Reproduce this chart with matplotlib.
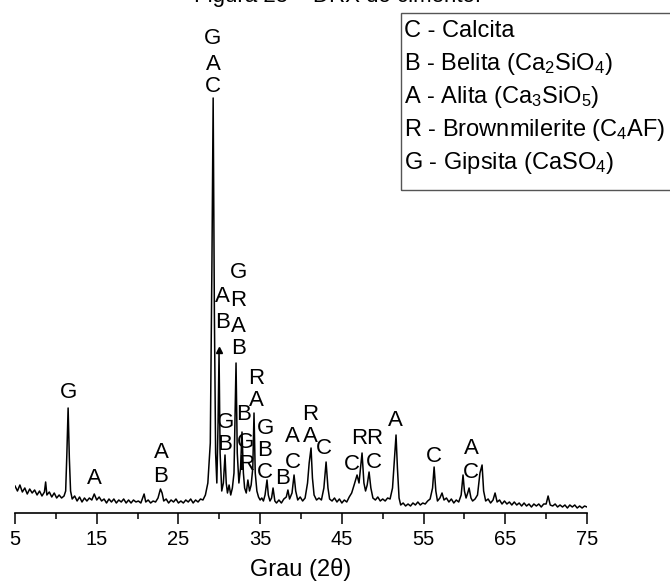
import matplotlib
matplotlib.use("Agg")
import matplotlib.pyplot as plt
from matplotlib.patches import Rectangle

plt.rcParams['font.family'] = ['Liberation Sans', 'DejaVu Sans']
plt.rcParams['mathtext.default'] = 'regular'

# difratograma (2theta, intensidade em unidades arbitrárias)
two_theta = [
    5.0, 5.3, 5.6, 5.9, 6.2, 6.5, 6.8, 7.1, 7.4, 7.7, 8.0, 8.3, 8.6, 8.75, 8.9,
    9.2, 9.5, 9.8, 10.1, 10.4, 10.7, 11.0, 11.2, 11.35, 11.5, 11.65, 11.8, 12.0,
    12.3, 12.6, 12.9, 13.2, 13.5, 13.8, 14.1, 14.4, 14.7, 15.0, 15.3, 15.6, 15.9,
    16.2, 16.5, 16.8, 17.1, 17.4, 17.7, 18.0, 18.3, 18.6, 18.9, 19.2, 19.5, 19.8,
    20.1, 20.4, 20.8, 21.0, 21.3, 21.6, 21.9, 22.2, 22.5, 22.8, 23.0, 23.2, 23.5,
    23.8, 24.1, 24.4, 24.7, 25.0, 25.3, 25.6, 25.9, 26.2, 26.5, 26.8, 27.1, 27.4,
    27.7, 28.0, 28.3, 28.6, 28.9, 29.1, 29.25, 29.4, 29.55, 29.7, 29.85, 29.97,
    30.1, 30.3, 30.5, 30.7, 30.85, 31.0, 31.2, 31.4, 31.6, 31.8, 32.05, 32.2,
    32.4, 32.6, 32.78, 32.95, 33.1, 33.3, 33.5, 33.7, 33.9, 34.1, 34.25, 34.4,
    34.6, 34.8, 35.0, 35.2, 35.4, 35.6, 35.84, 36.0, 36.2, 36.4, 36.58, 36.8,
    37.0, 37.3, 37.6, 37.9, 38.2, 38.4, 38.6, 38.9, 39.15, 39.35, 39.6, 39.9,
    40.2, 40.5, 40.8, 41.0, 41.23, 41.4, 41.6, 41.9, 42.2, 42.5, 42.8, 43.07,
    43.3, 43.5, 43.8, 44.1, 44.4, 44.7, 45.0, 45.3, 45.6, 45.9, 46.2, 46.5,
    46.86, 47.1, 47.47, 47.7, 47.9, 48.1, 48.33, 48.55, 48.8, 49.1, 49.4, 49.7,
    50.0, 50.3, 50.6, 50.9, 51.2, 51.45, 51.63, 51.8, 52.0, 52.2, 52.5, 52.8,
    53.1, 53.4, 53.7, 54.0, 54.3, 54.6, 54.9, 55.2, 55.5, 55.8, 56.1, 56.29,
    56.5, 56.7, 57.0, 57.26, 57.5, 57.8, 58.1, 58.4, 58.7, 59.0, 59.3, 59.6,
    59.83, 60.0, 60.2, 60.4, 60.57, 60.8, 61.0, 61.3, 61.6, 61.9, 62.16, 62.35,
    62.6, 62.9, 63.2, 63.5, 63.75, 64.0, 64.3, 64.6, 64.9, 65.2, 65.5, 65.8,
    66.1, 66.4, 66.7, 67.0, 67.3, 67.6, 67.9, 68.2, 68.5, 68.8, 69.1, 69.4,
    69.7, 70.0, 70.24, 70.5, 70.8, 71.1, 71.4, 71.7, 72.0, 72.3, 72.6, 72.9,
    73.2, 73.5, 73.8, 74.1, 74.4, 74.7, 75.0,
]
intensity = [
    27, 22, 28, 21, 25, 19, 24, 20, 23, 18, 22, 17, 21, 31, 18,
    21, 16, 20, 15, 18, 15, 17, 22, 60, 105, 55, 22, 14,
    17, 12, 16, 11, 15, 12, 15, 13, 19, 13, 16, 12, 14,
    10, 14, 11, 14, 10, 13, 11, 14, 10, 13, 10, 13, 11,
    12, 10, 19, 11, 13, 10, 12, 11, 15, 24, 20, 12, 14,
    10, 13, 11, 14, 10, 12, 10, 13, 11, 14, 10, 13, 11,
    14, 13, 18, 30, 70, 250, 415, 200, 60, 30, 90, 160,
    60, 22, 30, 58, 30, 20, 28, 18, 25, 40, 150, 60,
    30, 45, 81, 40, 25, 20, 33, 22, 28, 45, 100, 40,
    22, 16, 13, 15, 12, 18, 33, 18, 12, 15, 25, 12,
    10, 13, 10, 14, 16, 23, 14, 20, 38, 22, 13, 16,
    12, 15, 30, 50, 65, 35, 18, 13, 15, 13, 25, 51,
    25, 14, 12, 15, 11, 14, 10, 13, 11, 16, 20, 28,
    38, 30, 60, 30, 22, 28, 41, 25, 15, 13, 16, 12,
    14, 12, 15, 14, 25, 55, 78, 45, 15, 8, 10, 7,
    9, 7, 10, 8, 11, 8, 10, 9, 12, 14, 25, 46,
    22, 12, 15, 20, 13, 15, 11, 14, 10, 13, 11, 18,
    38, 22, 15, 20, 25, 15, 12, 14, 18, 40, 48, 22,
    12, 14, 10, 13, 20, 11, 13, 9, 12, 9, 11, 8,
    11, 8, 10, 7, 10, 7, 9, 6, 9, 7, 9, 6,
    9, 9, 17, 8, 7, 9, 6, 8, 6, 8, 5, 8,
    6, 8, 5, 7, 5, 7, 6,
]

# identificação dos picos: (2theta, altura, letra)
peak_labels = [
    (11.49, 120, "G"),
    (14.67, 34, "A"),
    (22.87, 61, "A"), (22.87, 37, "B"),
    (29.23, 474, "G"), (29.23, 449, "A"), (29.23, 427, "C"),
    (30.34, 216, "A"), (30.34, 191, "B"),
    (32.3, 241, "G"), (32.3, 212, "R"), (32.3, 187, "A"), (32.3, 164, "B"),
    (30.7, 90, "G"), (30.7, 69, "B"),
    (33.0, 99, "B"), (33.15, 71, "G"), (33.3, 49, "R"),
    (34.5, 134, "R"), (34.5, 112, "A"),
    (35.6, 84, "G"), (35.6, 63, "B"), (35.6, 40, "C"),
    (37.8, 34, "B"),
    (39.0, 76, "A"), (39.0, 51, "C"),
    (41.1, 99, "R"), (41.1, 77, "A"),
    (42.8, 64, "C"),
    (46.25, 49, "C"),
    (47.1, 74, "R"),
    (48.9, 75, "R"), (48.9, 51, "C"),
    (51.6, 92, "A"),
    (56.3, 56, "C"),
    (60.8, 65, "A"), (60.8, 40, "C"),
]
arrow_peak = (29.97, 163)

major_ticks = [5, 15, 25, 35, 45, 55, 65, 75]
minor_ticks = [10, 20, 30, 40, 50, 60, 70]

legend_lines = [
    "C - Calcita",
    "B - Belita (Ca$_2$SiO$_4$)",
    "A - Alita (Ca$_3$SiO$_5$)",
    "R - Brownmilerite (C$_4$AF)",
    "G - Gipsita (CaSO$_4$)",
]

fig = plt.figure(figsize=(6.7, 5.84), dpi=100)
W, H = 670, 584
ax = fig.add_axes([15 / W, 1 - 513 / H, 572 / W, 500 / H])

ax.plot(two_theta, intensity, color='black', linewidth=1.1)
ax.plot(arrow_peak[0], arrow_peak[1], marker='^', color='black', markersize=5)

for x, y, txt in peak_labels:
    ax.text(x, y, txt, fontsize=16, ha='center', va='center')

ax.set_xlim(5, 75)
ax.set_ylim(0, 500)
for s in ['left', 'right', 'top']:
    ax.spines[s].set_visible(False)
ax.spines['bottom'].set_linewidth(1.2)
ax.set_yticks([])
ax.set_xticks(major_ticks)
ax.set_xticks(minor_ticks, minor=True)
ax.tick_params(axis='x', which='major', direction='out', length=8, width=1.1,
               labelsize=14.5, pad=4)
ax.tick_params(axis='x', which='minor', direction='out', length=4, width=1.1)
ax.set_xlabel("Grau (2θ)", fontsize=17, labelpad=7)

# caixa de legenda
fig.patches.append(Rectangle((401 / W, 1 - 190 / H), 300 / W, 177 / H,
                             transform=fig.transFigure, fill=False,
                             edgecolor='#555555', linewidth=1.0))
for i, line in enumerate(legend_lines):
    fig.text(404 / W, 1 - (31 + 33 * i) / H, line, fontsize=17,
             ha='left', va='center')

fig.text(338 / W, 1 - 2 / H, "Figura 25 – DRX do cimento.", fontsize=16,
         ha='center', va='baseline')

fig.savefig("out.png", dpi=100)
